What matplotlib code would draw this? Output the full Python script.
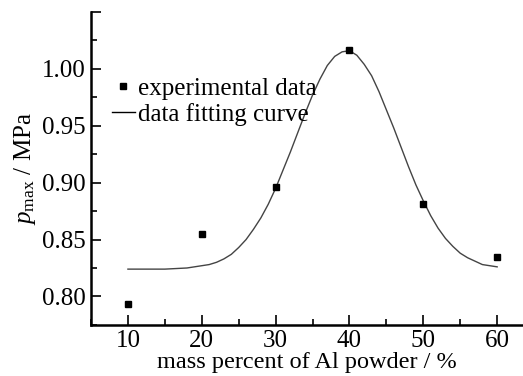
import matplotlib
matplotlib.use('Agg')
import matplotlib.pyplot as plt
from matplotlib.lines import Line2D
from matplotlib.ticker import MultipleLocator

plt.rcParams['font.family'] = 'Liberation Serif'
plt.rcParams['mathtext.fontset'] = 'custom'
plt.rcParams['mathtext.rm'] = 'Liberation Serif'
plt.rcParams['mathtext.it'] = 'Liberation Serif:italic'

# experimental points
mass_pct = [10, 20, 30, 40, 50, 60]
p_max = [0.793, 0.855, 0.896, 1.017, 0.881, 0.835]

# fitted curve
fit_x = [10, 15, 18, 20, 21, 22, 23, 24, 25, 26, 27, 28, 29, 30, 31, 32, 33, 34, 35,
         36, 37, 38, 39, 40, 41, 42, 43, 44, 45, 46, 47, 48, 49, 50, 51, 52, 53, 54,
         55, 56, 57, 58, 59, 60]
fit_y = [0.824, 0.824, 0.825, 0.827, 0.828, 0.830, 0.833, 0.837, 0.843, 0.850,
         0.859, 0.869, 0.881, 0.895, 0.911, 0.927, 0.944, 0.961, 0.977, 0.991,
         1.003, 1.011, 1.015, 1.016, 1.012, 1.004, 0.994, 0.980, 0.964, 0.948,
         0.931, 0.914, 0.898, 0.884, 0.871, 0.860, 0.851, 0.844, 0.838, 0.834,
         0.831, 0.828, 0.827, 0.826]

xticks = [10, 20, 30, 40, 50, 60]
yticks = [0.80, 0.85, 0.90, 0.95, 1.00, 1.05]
ytick_labels = ['0.80', '0.85', '0.90', '0.95', '1.00', '']

fig = plt.figure(figsize=(5.23, 3.76), dpi=100)
ax = fig.add_axes([0.174, 0.136, 0.826, 0.832])

ax.plot(fit_x, fit_y, color='#444444', lw=1.0)
ax.plot(mass_pct, p_max, 's', color='black', ms=5, ls='none')

ax.set_xlim(5, 63.5)
ax.set_ylim(0.775, 1.05)
ax.set_xticks(xticks)
ax.set_yticks(yticks)
ax.set_yticklabels(ytick_labels)
ax.xaxis.set_minor_locator(MultipleLocator(5))
ax.yaxis.set_minor_locator(MultipleLocator(0.025))
ax.tick_params(which='major', direction='in', length=7, width=1.2, labelsize=18, pad=4)
ax.tick_params(which='minor', direction='in', length=4, width=1.2)

for s in ['top', 'right']:
    ax.spines[s].set_visible(False)
for s in ['left', 'bottom']:
    ax.spines[s].set_linewidth(1.8)

ax.set_xlabel('mass percent of Al powder / %', fontsize=17.5, labelpad=0)
ax.set_ylabel(r'$p_{\rm max}$ / MPa', fontsize=18, labelpad=3)

handles = [Line2D([], [], marker='s', color='black', ms=4, ls='none'),
           Line2D([], [], color='black', lw=1.0)]
ax.legend(handles, ['experimental data', 'data fitting curve'], frameon=False,
          fontsize=18, loc='upper left', bbox_to_anchor=(0.02, 0.83),
          handlelength=0.9, handletextpad=0.15, labelspacing=0.1, borderpad=0)

fig.savefig('out.png', dpi=100)
